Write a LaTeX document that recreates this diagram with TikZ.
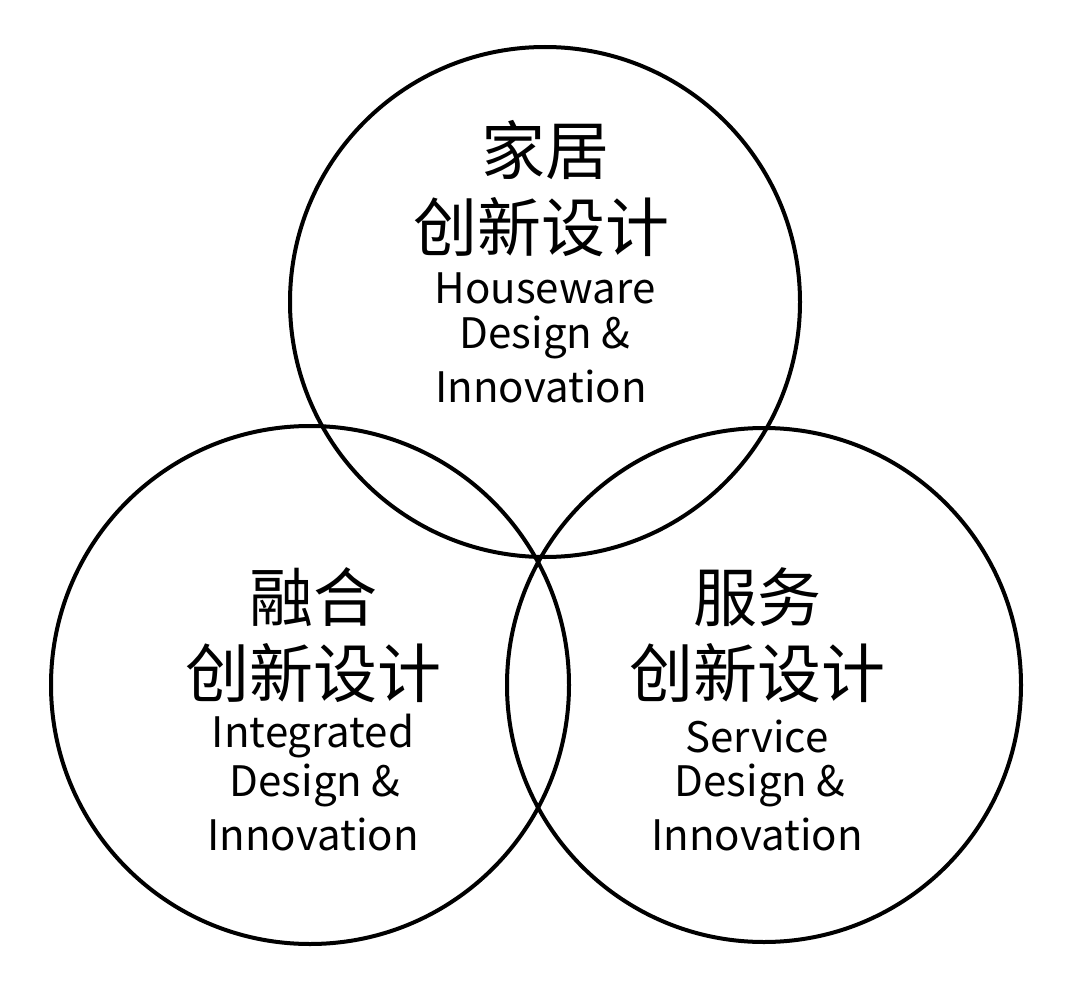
\documentclass[tikz,border=0pt]{standalone}
\usepackage{fontspec}
\setmainfont{Noto Sans CJK SC}
\begin{document}
\begin{tikzpicture}[x=1pt,y=-1pt,
  ring/.style={draw=black,line width=4pt},
  zh/.style={font=\fontsize{64}{68}\selectfont,inner sep=0pt},
  en/.style={font=\fontsize{42}{44}\selectfont,inner sep=0pt}]
\useasboundingbox (0,0) rectangle (1080,990);
\node[ring,circle,minimum size=510pt,inner sep=0pt] (top) at (545,302) {};
\node[ring,circle,minimum size=518pt,inner sep=0pt] (left) at (310,685) {};
\node[ring,circle,minimum size=514pt,inner sep=0pt] (right) at (764,685) {};
\node[zh] (t1) at (545,150) {家居};
\node[zh] (t2) at (541,227) {创新设计};
\node[en] (t3) at (545,288) {Houseware};
\node[en] (t4) at (545,337) {Design \&};
\node[en] (t5) at (541,386) {Innovation};
\node[zh] (l1) at (313,597) {融合};
\node[zh] (l2) at (313,673) {创新设计};
\node[en] (l3) at (313,736) {Integrated};
\node[en] (l4) at (315,785) {Design \&};
\node[en] (l5) at (313,834) {Innovation};
\node[zh] (r1) at (757,597) {服务};
\node[zh] (r2) at (757,673) {创新设计};
\node[en] (r3) at (757,736) {Service};
\node[en] (r4) at (760,785) {Design \&};
\node[en] (r5) at (757,834) {Innovation};
\end{tikzpicture}
\end{document}
